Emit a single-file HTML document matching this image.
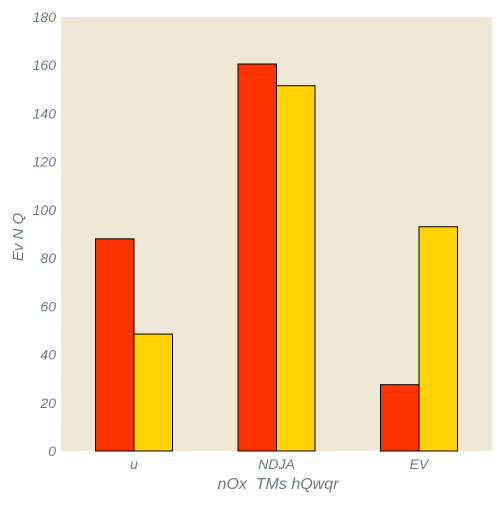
<!DOCTYPE html>
<html><head><meta charset="utf-8"><style>
body{margin:0;background:#fff;}
text{font-family:"Liberation Sans",sans-serif;font-style:italic;fill:#6b7b85;white-space:pre;}
</style></head><body>
<svg id="chart" width="504" height="504">
<rect x="61" y="17" width="431" height="434" fill="#efe7d6"/>
<g id="bars"></g><g id="axes"></g>
<text x="278" y="489" font-size="16" text-anchor="middle" xml:space="preserve">nOx  TMs hQwqr</text>
<text x="23" y="237" font-size="15" text-anchor="middle" transform="rotate(-90 23 237)">Ev N Q</text>
</svg>
<script>
const categories=["u","NDJA","EV"];
const seriesRed=[88,160.5,27.5];
const seriesYellow=[48.5,151.5,93];
const yTicks=[0,20,40,60,80,100,120,140,160,180];
const L=61,R=492,T=17,B=451,yMax=180;
const ns="http://www.w3.org/2000/svg";
function y(v){return B-(v/yMax)*(B-T);}
const step=142.5,first=134;
function xc(i){return first+i*step;}
const bw=38.5;
const bars=document.getElementById('bars'),axes=document.getElementById('axes');
function mk(t,a,p){const e=document.createElementNS(ns,t);for(const k in a)e.setAttribute(k,a[k]);p.appendChild(e);return e;}
categories.forEach((c,i)=>{
 [[seriesRed,'#ff3300',-bw,'bar-red'],[seriesYellow,'#ffd200',0,'bar-yellow']].forEach(s=>{
  const v=s[0][i];
  const r=mk('rect',{x:xc(i)+s[2],y:y(v),width:bw,height:B-y(v),fill:s[1],stroke:'#000','stroke-width':1},bars);
  
  
 });
 const t=mk('text',{x:xc(i),y:469,'font-size':14,'text-anchor':'middle'},axes);
 t.textContent=c;
 
 
});
yTicks.forEach(v=>{
 const t=mk('text',{x:56,y:y(v)+5,'font-size':14,'text-anchor':'end'},axes);
 t.textContent=v;
 
 
});
</script>
</body></html>
